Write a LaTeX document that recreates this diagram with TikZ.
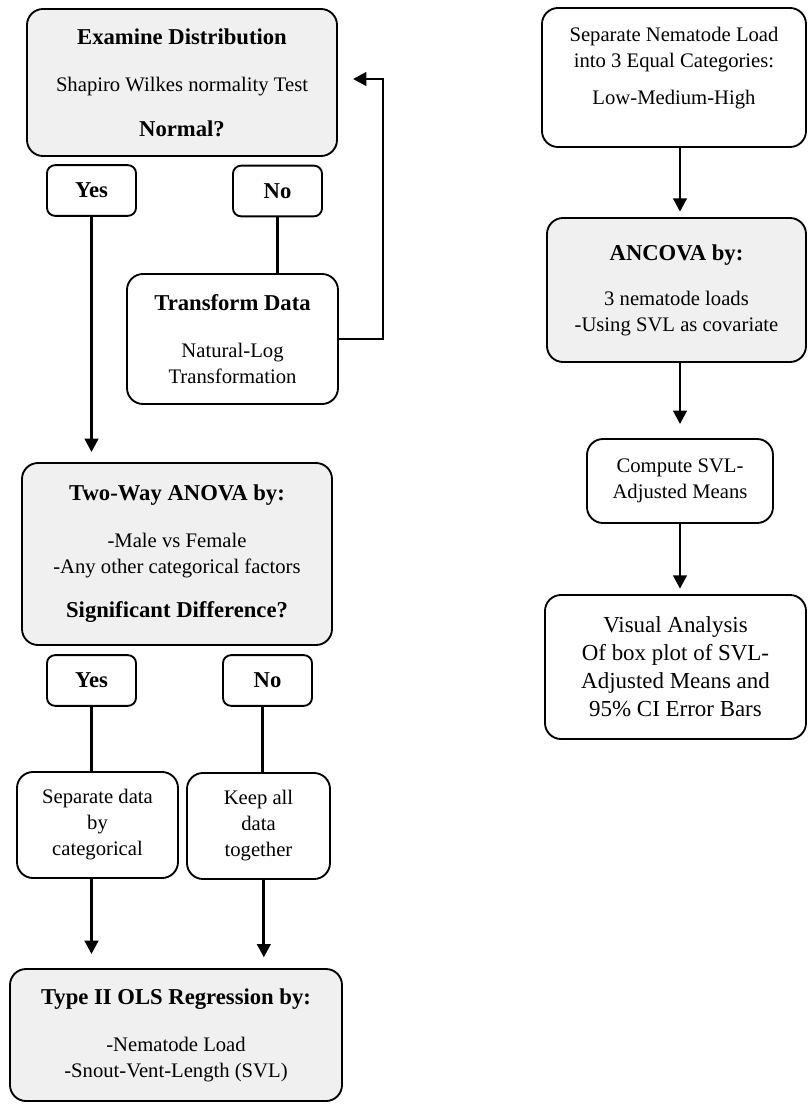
\documentclass[tikz,border=0pt]{standalone}
\usepackage{fontspec}
\setmainfont{Liberation Serif}
\usetikzlibrary{arrows.meta}
\newcommand{\headtxt}[1]{{\fontsize{17}{19.5}\selectfont\bfseries #1}}

\begin{document}
\begin{tikzpicture}[
x=0.75pt, y=-0.75pt,
line width=2.2pt,
every node/.style={
draw,
line width=1.4pt,
rounded corners=12pt,
align=center,
inner sep=0pt,
font=\fontsize{15.5}{19.5}\selectfont
},
grey/.style={fill=gray!12},
pick/.style={
rounded corners=6pt,
minimum width=66.75pt,
minimum height=38pt,
font=\fontsize{17}{19.5}\selectfont\bfseries
},
arr/.style={-{Triangle[width=10pt,length=10pt]}}
]
\useasboundingbox (0,0) rectangle (808,1104);

% left column
\node[grey, minimum width=232.5pt, minimum height=110.25pt] (D) at (182,82.5)
{\headtxt{Examine Distribution}\\[15.75pt]Shapiro Wilkes normality Test\\[14.25pt]\headtxt{Normal?}};

\node[pick] (Y1) at (91.5,190.5) {Yes};
\node[pick] (N1) at (277.5,191) {No};

\node[minimum width=158.25pt, minimum height=97.5pt] (T) at (232.5,339)
{\headtxt{Transform Data}\\[15.75pt]Natural-Log\\Transformation};

\node[grey, minimum width=232.5pt, minimum height=136.5pt] (W) at (177,554)
{\headtxt{Two-Way ANOVA by:}\\[15.75pt]-Male vs Female\\-Any other categorical factors\\[13.5pt]\headtxt{Significant Difference?}};

\node[pick] (Y2) at (91.5,680.5) {Yes};
\node[pick] (N2) at (267.5,680.5) {No};

\node[minimum width=120.75pt, minimum height=79.5pt] (S) at (97.5,825)
{Separate data\\by\\categorical};

\node[minimum width=107.25pt, minimum height=79.5pt] (K) at (258.5,826)
{Keep all\\data\\together};

\node[grey, minimum width=249pt, minimum height=99pt] (R) at (176,1035)
{\headtxt{Type II OLS Regression by:}\\[15.75pt]-Nematode Load\\-Snout-Vent-Length (SVL)};

% right column
\node[minimum width=198pt, minimum height=104.25pt, text depth=17.5pt] (C) at (674,77.5)
{Separate Nematode Load\\into 3 Equal Categories:\\[8.25pt]Low-Medium-High};

\node[grey, minimum width=194.25pt, minimum height=108pt] (A) at (676.5,290)
{\headtxt{ANCOVA by:}\\[14.25pt]3 nematode loads\\-Using SVL as covariate};

\node[minimum width=139.5pt, minimum height=63pt] (M) at (680,481)
{Compute SVL-\\Adjusted Means};

\node[minimum width=195.75pt, minimum height=108pt, font=\fontsize{17.2}{21}\selectfont] (V) at (675.5,667)
{Visual Analysis\\Of box plot of SVL-\\Adjusted Means and\\95\% CI Error Bars};

\coordinate (B) at (383,79);

\draw[arr, shorten >=7.5pt] (Y1.south) -- (Y1.south |- W.north);
\draw (N1.south) -- (N1.south |- T.north);
\draw[arr, shorten >=11.25pt] (T.east) -| (B) -- (D.east |- B);

\draw (Y2.south) -- (Y2.south |- S.north);
\draw ([xshift=-4pt]N2.south) -- ([xshift=-4pt]N2.south |- K.north);
\draw[arr, shorten >=10.5pt] (S.south -| Y1) -- (R.north -| Y1);
\draw[arr, shorten >=8pt] ([xshift=4pt]K.south) -- ([xshift=4pt]K.south |- R.north);

\draw[arr, shorten >=4pt] (C.south -| M) -- (A.north -| M);
\draw[arr, shorten >=10.5pt] (A.south -| M) -- (M.north);
\draw[arr, shorten >=4pt] (M.south) -- (V.north -| M);

\end{tikzpicture}
\end{document}
